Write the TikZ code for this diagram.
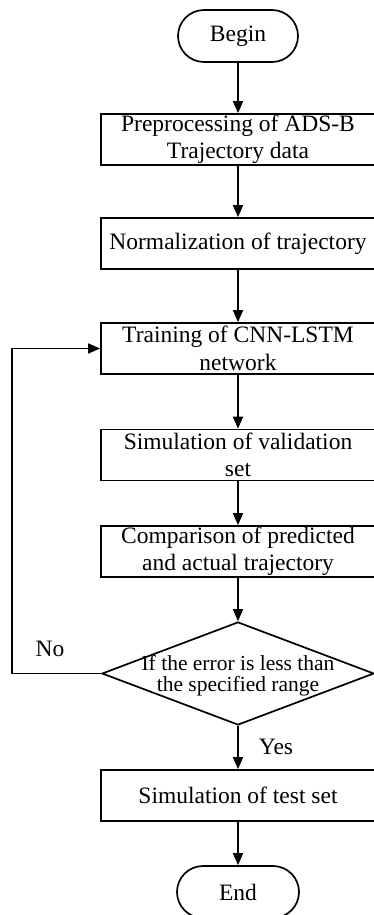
\documentclass[tikz,border=0pt]{standalone}
\usepackage{fontspec}
\setmainfont{Liberation Serif}
\usetikzlibrary{arrows.meta,shapes.geometric,shapes.misc}
\begin{document}
\begin{tikzpicture}[x=1pt,y=-1pt,
  every node/.style={font=\fontsize{23.5}{27.5}\selectfont},
  term/.style={draw,line width=1.7pt,rounded rectangle,minimum width=120pt,minimum height=52pt,inner sep=0pt},
  proc/.style={draw,line width=1.7pt,rectangle,minimum width=274pt,minimum height=51pt,inner sep=0pt,align=center},
  dec/.style={draw,line width=1.7pt,diamond,minimum width=272pt,minimum height=103pt,inner sep=0pt},
  conn/.style={line width=1.7pt,-{Triangle[length=12pt,width=10pt]}},
  lbl/.style={inner sep=0pt}]
\useasboundingbox (0,0) rectangle (374,915);
\node[term] (begin) at (238,36) {Begin};
\node[proc] (b1) at (238,139.5) {Preprocessing of ADS-B\\Trajectory data};
\node[proc] (b2) at (238,243.5) {Normalization of trajectory};
\node[proc] (b3) at (238,348.5) {Training of CNN-LSTM\\network};
\node[proc] (b4) at (238,455) {Simulation of validation\\set};
\node[proc] (b5) at (238,551.5) {Comparison of predicted\\and actual trajectory};
\node[dec] (dia) at (238,673.5) {};
\node[lbl,align=center,font=\fontsize{21.5}{21}\selectfont] (dt) at (238,676) {If the error is less than\\the specified range};
\node[proc] (b6) at (238,795.5) {Simulation of test set};
\node[term,minimum width=122pt] (end) at (238,892) {End};
\coordinate (lp) at (12,673.5);
\draw[conn] (begin) -- (b1);
\draw[conn] (b1) -- (b2);
\draw[conn] (b2) -- (b3);
\draw[conn] (b3) -- (b4);
\draw[conn] (b4) -- (b5);
\draw[conn] (b5) -- (dia);
\draw[conn] (dia) -- (b6);
\draw[conn] (b6) -- (end);
\draw[conn] (dia.west) -- (lp) |- (b3.west);
\node[lbl] (no) at (50,649) {No};
\node[lbl] (yes) at (276,747) {Yes};
\end{tikzpicture}
\end{document}
